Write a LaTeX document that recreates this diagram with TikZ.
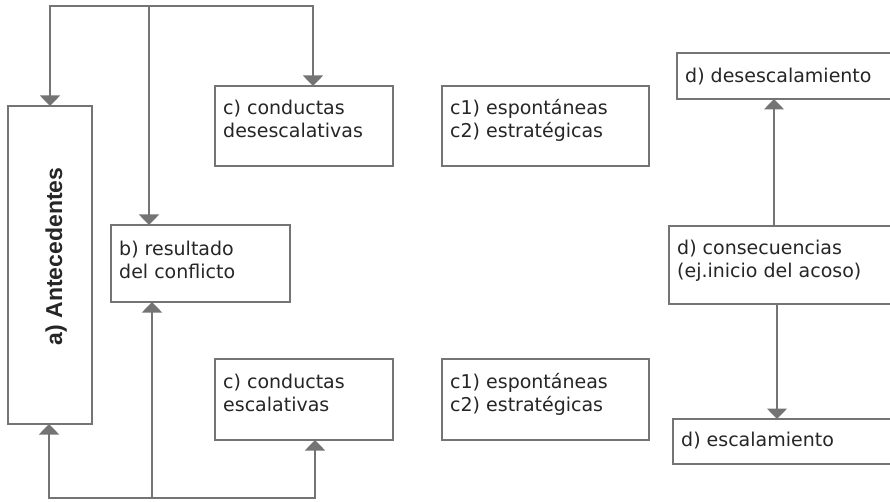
\documentclass[tikz,border=0pt]{standalone}
\usepackage{fontspec}
\setmainfont{DejaVu Sans}
\newfontfamily\antfont{Liberation Sans}
\usetikzlibrary{arrows.meta}
\definecolor{linegray}{HTML}{747474}
\definecolor{txtgray}{HTML}{262626}
\tikzset{
  box/.style={draw=linegray, line width=1.5pt, fill=white, inner sep=0pt, outer sep=0pt, anchor=north west},
  txt/.style={text=txtgray, font=\fontsize{19}{23}\selectfont, align=left, anchor=base west, inner sep=0pt},
  conn/.style={draw=linegray, line width=1.6pt},
  arr/.style={conn, -{Triangle[width=20pt,length=10.5pt]}},
  dbl/.style={conn, {Triangle[width=20pt,length=10.5pt]}-{Triangle[width=20pt,length=10.5pt]}}
}
\begin{document}
\begin{tikzpicture}[x=1pt,y=-1pt]
\useasboundingbox (0,0) rectangle (890,502);
\clip (0,0) rectangle (890,502);
% boxes
\node[box, minimum width=84pt, minimum height=318pt] (ant) at (8,106) {};
\node[box, minimum width=178pt, minimum height=80pt] (cd) at (215,86) {};
\node[box, minimum width=179pt, minimum height=77pt] (b) at (111,225) {};
\node[box, minimum width=178pt, minimum height=81pt] (ce) at (215,359) {};
\node[box, minimum width=207pt, minimum height=80pt] (s1) at (442,86) {};
\node[box, minimum width=207pt, minimum height=81pt] (s2) at (442,359) {};
\node[box, minimum width=230pt, minimum height=46pt] (dd) at (677,53) {};
\node[box, minimum width=240pt, minimum height=78pt] (cons) at (669,226) {};
\node[box, minimum width=240pt, minimum height=45pt] (de) at (673,419) {};
% texts (anchor = baseline of the last line)
\node[rotate=90, anchor=base, text=txtgray, inner sep=0pt, font=\antfont\bfseries\fontsize{23}{26}\selectfont] (antt) at (62,256.5) {a) Antecedentes};
\node[txt] (cdt) at (223,138) {c) conductas\\desescalativas};
\node[txt] (bt) at (119,278) {b) resultado\\del conflicto};
\node[txt] (cet) at (223,411) {c) conductas\\escalativas};
\node[txt] (s1t) at (450,137.5) {c1) espontáneas\\c2) estratégicas};
\node[txt] (s2t) at (450,411) {c1) espontáneas\\c2) estratégicas};
\node[txt] (ddt) at (685,83) {d) desescalamiento};
\node[txt] (const) at (677,277.5) {d) consecuencias\\(ej.inicio del acoso)};
\node[txt] (det) at (681,446) {d) escalamiento};
% connectors
\coordinate (t1) at (50,6);
\coordinate (tm) at (149,6);
\coordinate (t3) at (313,6);
\draw[dbl] (t1 |- ant.north) |- (t3) -- (t3 |- cd.north);
\draw[arr] (tm) -- (tm |- b.north);
\coordinate (b1) at (49,498);
\coordinate (bm) at (152,498);
\coordinate (b3) at (315,498);
\draw[dbl] (b1 |- ant.south) |- (b3) -- (b3 |- ce.south);
\draw[arr] (bm) -- (bm |- b.south);
\coordinate (r1) at (774,0);
\coordinate (r2) at (777,0);
\draw[arr] (r1 |- cons.north) -- (r1 |- dd.south);
\draw[arr] (r2 |- cons.south) -- (r2 |- de.north);
\end{tikzpicture}
\end{document}
